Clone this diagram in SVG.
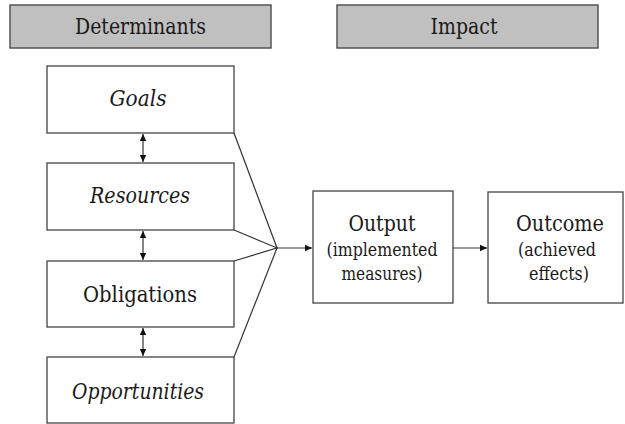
<svg xmlns="http://www.w3.org/2000/svg" width="625" height="424" viewBox="0 0 625 424">
<style>
.hdr{fill:#c0c0c0;stroke:#555;stroke-width:1.5}
.box{fill:#fff;stroke:#444;stroke-width:1.3}
text{font-family:'DejaVu Serif',serif;fill:#1a1a1a;text-anchor:middle}
.big{font-size:22px}
.sm{font-size:18px}
.it{font-style:italic}
.ln{fill:none;stroke:#333;stroke-width:1.2}
</style>
<defs>
<marker id="ah" markerWidth="8" markerHeight="8" refX="7" refY="4" orient="auto-start-reverse" markerUnits="userSpaceOnUse">
<path d="M0,0.8 L7,4 L0,7.2 Z" fill="#111"/>
</marker>
</defs>
<rect width="625" height="424" fill="#fff"/>
<g id="hdr-determinants"><rect class="hdr" x="10" y="5" width="261" height="43"/><text class="big" x="140.5" y="34" textLength="131" lengthAdjust="spacingAndGlyphs">Determinants</text></g>
<g id="hdr-impact"><rect class="hdr" x="337" y="5" width="261" height="43"/><text class="big" x="464" y="34" textLength="67" lengthAdjust="spacingAndGlyphs">Impact</text></g>
<g id="goals"><rect class="box" x="47" y="66" width="187" height="67"/><text class="big it" x="138" y="106" textLength="57" lengthAdjust="spacingAndGlyphs">Goals</text></g>
<g id="resources"><rect class="box" x="47" y="163" width="187" height="67"/><text class="big it" x="140" y="203" textLength="100" lengthAdjust="spacingAndGlyphs">Resources</text></g>
<g id="obligations"><rect class="box" x="47" y="261" width="187" height="66"/><text class="big" x="140" y="302" textLength="114" lengthAdjust="spacingAndGlyphs">Obligations</text></g>
<g id="opportunities"><rect class="box" x="47" y="357" width="187" height="66"/><text class="big it" x="138" y="399" textLength="132" lengthAdjust="spacingAndGlyphs">Opportunities</text></g>
<g id="output"><rect class="box" x="313" y="191" width="140" height="112"/><text class="big" x="382" y="231" textLength="67" lengthAdjust="spacingAndGlyphs">Output</text><text class="sm" x="382" y="256" textLength="111" lengthAdjust="spacingAndGlyphs">(implemented</text><text class="sm" x="382" y="280" textLength="81" lengthAdjust="spacingAndGlyphs">measures)</text></g>
<g id="outcome"><rect class="box" x="488" y="192" width="135" height="111"/><text class="big" x="560" y="231" textLength="88" lengthAdjust="spacingAndGlyphs">Outcome</text><text class="sm" x="557" y="256" textLength="78" lengthAdjust="spacingAndGlyphs">(achieved</text><text class="sm" x="559" y="280" textLength="60" lengthAdjust="spacingAndGlyphs">effects)</text></g>
<g id="connectors">
<line class="ln" x1="143" y1="134" x2="143" y2="162" marker-start="url(#ah)" marker-end="url(#ah)"/>
<line class="ln" x1="143" y1="231" x2="143" y2="260" marker-start="url(#ah)" marker-end="url(#ah)"/>
<line class="ln" x1="143" y1="328" x2="143" y2="356" marker-start="url(#ah)" marker-end="url(#ah)"/>
<polyline class="ln" points="234,133 277,248 234,230"/>
<polyline class="ln" points="234,261 277,248 234,357"/>
<line class="ln" x1="277" y1="248" x2="312" y2="248" marker-end="url(#ah)"/>
<line class="ln" x1="453" y1="248" x2="487" y2="248" marker-end="url(#ah)"/>
</g>
</svg>
